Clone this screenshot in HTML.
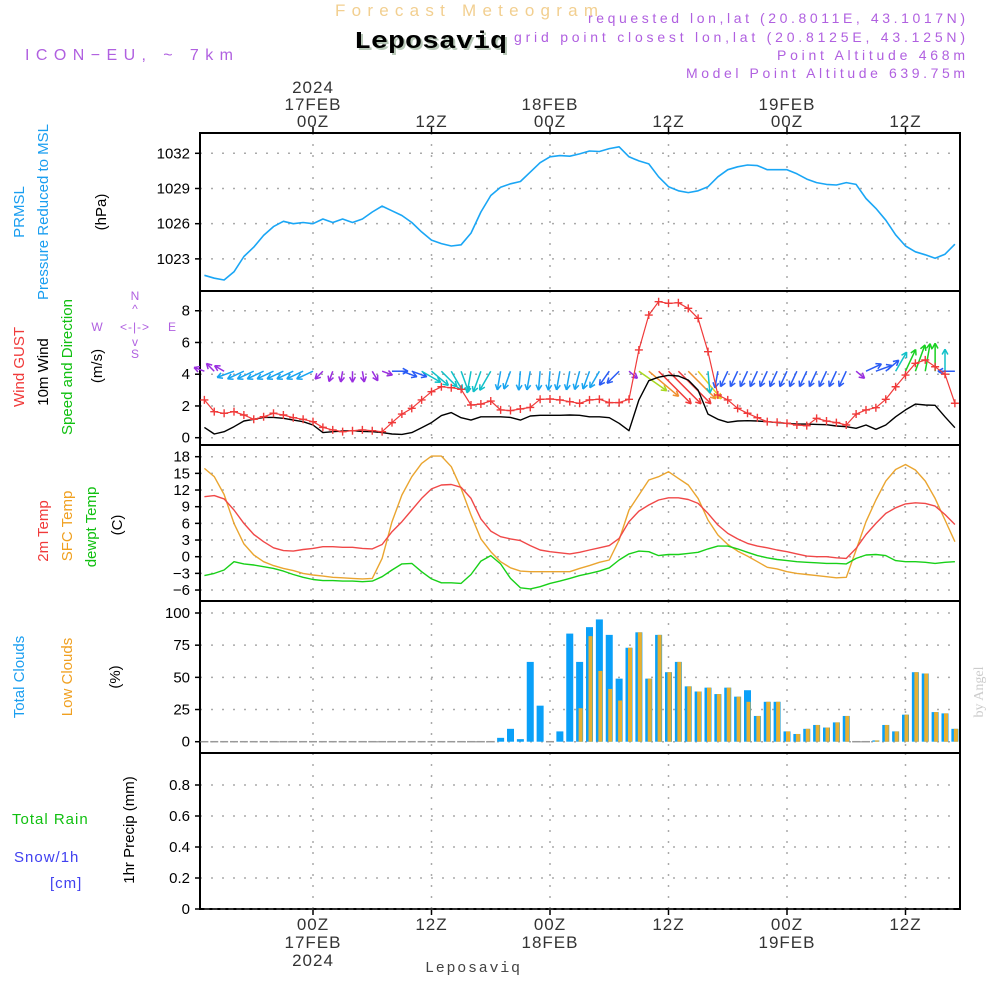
<!DOCTYPE html>
<html><head><meta charset="utf-8"><title>Forecast Meteogram Leposaviq</title>
<style>
html,body{margin:0;padding:0;background:#fff;}
svg{display:block;font-family:"Liberation Sans",sans-serif;}
</style></head>
<body>
<svg id="chart" width="1000" height="1000" viewBox="0 0 1000 1000" xmlns="http://www.w3.org/2000/svg">
<rect width="1000" height="1000" fill="#fff"/>
<text x="335" y="16" font-size="17" fill="#f2cf90" textLength="263" lengthAdjust="spacing">Forecast Meteogram</text>
<text x="356" y="50" font-size="24" font-weight="bold" font-family="Liberation Mono,monospace" fill="#b8c8b8" textLength="153" lengthAdjust="spacingAndGlyphs">Leposaviq</text>
<text x="354" y="48" font-size="24" font-weight="bold" font-family="Liberation Mono,monospace" fill="#000" textLength="153" lengthAdjust="spacingAndGlyphs">Leposaviq</text>
<g font-size="14" fill="#b060e0">
<text x="588" y="23" textLength="377" lengthAdjust="spacing">requested lon,lat (20.8011E, 43.1017N)</text>
<text x="514" y="42" textLength="451" lengthAdjust="spacing">grid point closest lon,lat (20.8125E, 43.125N)</text>
<text x="777" y="60" textLength="188" lengthAdjust="spacing">Point Altitude 468m</text>
<text x="686" y="78" textLength="279" lengthAdjust="spacing">Model Point Altitude 639.75m</text>
</g>
<text x="25" y="60" font-size="16" fill="#b060e0" textLength="208" lengthAdjust="spacing">ICON−EU, ~ 7km</text>
<g id="axes"></g>
<g id="plots"></g>
<g font-size="15">
<text transform="translate(24,212) rotate(-90)" text-anchor="middle" fill="#1a9ef0">PRMSL</text>
<text transform="translate(48,212) rotate(-90)" text-anchor="middle" fill="#1a9ef0">Pressure Reduced to MSL</text>
<text transform="translate(106,212) rotate(-90)" text-anchor="middle" fill="#000">(hPa)</text>
<text transform="translate(24,367) rotate(-90)" text-anchor="middle" fill="#f03a3a">Wind GUST</text>
<text transform="translate(48,372) rotate(-90)" text-anchor="middle" fill="#000">10m Wind</text>
<text transform="translate(72,367) rotate(-90)" text-anchor="middle" fill="#10c010">Speed and Direction</text>
<text transform="translate(102,366) rotate(-90)" text-anchor="middle" fill="#000">(m/s)</text>
<text transform="translate(48,531) rotate(-90)" text-anchor="middle" fill="#f03a3a">2m Temp</text>
<text transform="translate(72,526) rotate(-90)" text-anchor="middle" fill="#f0a020">SFC Temp</text>
<text transform="translate(96,527) rotate(-90)" text-anchor="middle" fill="#10c010">dewpt Temp</text>
<text transform="translate(122,525) rotate(-90)" text-anchor="middle" fill="#000">(C)</text>
<text transform="translate(24,677) rotate(-90)" text-anchor="middle" fill="#1a9ef0">Total Clouds</text>
<text transform="translate(72,677) rotate(-90)" text-anchor="middle" fill="#f0a020">Low Clouds</text>
<text transform="translate(120,677) rotate(-90)" text-anchor="middle" fill="#000">(%)</text>
<text transform="translate(134,830) rotate(-90)" text-anchor="middle" fill="#000">1hr Precip (mm)</text>
<text x="12" y="824" fill="#10c010" letter-spacing="1">Total  Rain</text>
<text x="14" y="862" fill="#4040f0" letter-spacing="1">Snow/1h</text>
<text x="50" y="888" fill="#4040f0" letter-spacing="1">[cm]</text>
</g>
<g font-size="12" fill="#b060e0" text-anchor="middle">
<text x="135" y="300">N</text><text x="135" y="313">^</text>
<text x="97" y="331">W</text><text x="135" y="331" letter-spacing="1">&lt;-|-&gt;</text><text x="172" y="331">E</text>
<text x="135" y="346">v</text><text x="135" y="358">S</text>
</g>
<text x="425" y="972" font-size="15" font-family="Liberation Mono,monospace" fill="#444" textLength="95" lengthAdjust="spacing">Leposaviq</text>
<text transform="translate(983,692) rotate(-90)" font-size="14" font-family="Liberation Serif,serif" fill="#ccc" text-anchor="middle">by Angel</text>
</svg>
<script>
// hours relative to 17FEB 00Z
const startHour = -11;
const pressure = [1021.6,1021.35,1021.2,1021.9,1023.2,1024.0,1025.0,1025.75,1026.2,1026.0,1026.1,1026.0,1026.4,1026.1,1026.4,1026.1,1026.4,1027.0,1027.5,1027.1,1026.7,1026.1,1025.3,1024.6,1024.3,1024.1,1024.2,1025.2,1027.0,1028.4,1029.1,1029.4,1029.6,1030.4,1031.2,1031.7,1031.8,1031.75,1031.95,1032.2,1032.15,1032.4,1032.55,1031.7,1031.35,1031.1,1030.0,1029.15,1028.8,1028.65,1028.8,1029.15,1030.0,1030.6,1030.85,1031.0,1030.95,1030.6,1030.6,1030.6,1030.25,1029.8,1029.5,1029.35,1029.3,1029.5,1029.35,1028.15,1027.3,1026.3,1025.05,1024.1,1023.6,1023.35,1023.05,1023.4,1024.25];
const gust = [2.38,1.64,1.54,1.64,1.43,1.16,1.32,1.54,1.43,1.26,1.16,1.01,0.65,0.49,0.38,0.44,0.49,0.44,0.38,0.95,1.49,1.85,2.38,2.9,3.21,3.15,3.05,2.06,2.12,2.31,1.75,1.71,1.81,1.91,2.42,2.44,2.38,2.27,2.17,2.38,2.42,2.21,2.21,2.42,5.53,7.73,8.57,8.47,8.5,8.15,7.52,5.42,2.69,2.38,1.85,1.54,1.26,1.01,0.97,0.91,0.8,0.76,1.22,1.05,0.95,0.8,1.49,1.75,1.89,2.42,3.21,3.95,4.69,4.9,4.47,4.0,2.17];
const wind10m = [0.65,0.23,0.38,0.69,1.05,1.16,1.28,1.28,1.22,1.11,1.01,0.8,0.32,0.38,0.42,0.44,0.4,0.38,0.32,0.23,0.21,0.32,0.63,0.95,1.39,1.58,1.26,1.11,1.32,1.32,1.32,1.28,1.11,1.37,1.41,1.41,1.41,1.43,1.41,1.32,1.32,1.26,0.91,0.44,2.38,3.59,3.81,3.93,3.89,3.63,3.0,1.49,1.16,0.97,1.05,1.07,1.05,1.01,0.95,0.91,0.86,0.86,0.84,0.82,0.74,0.69,0.59,0.8,0.53,0.8,1.32,1.75,2.12,2.06,2.04,1.32,0.63];
// arrow direction (screen angle deg, 0=pointing east, 90=pointing south) and arrow strength
const windDir = [200,225,210,160,155,155,155,155,155,155,155,155,135,110,100,90,80,60,20,0,20,20,30,40,45,60,70,100,110,120,100,110,95,100,95,95,100,100,105,110,120,125,135,40,35,40,45,45,45,45,50,85,100,115,115,115,115,115,115,115,115,115,115,115,115,115,40,-25,-20,-40,-60,-65,-70,-80,-90,-90,180];
const windStrength = [0.5,0.5,0.5,1.2,1.2,1.2,1.2,1.2,1.2,1.2,1.2,1.2,0.5,0.5,0.5,0.5,0.5,0.5,0.5,1.0,1.0,1.0,1.6,1.6,1.6,1.6,1.6,1.6,1.6,1.6,1.3,1.3,1.3,1.3,1.3,1.3,1.3,1.3,1.3,1.3,1.3,1.1,1.1,0.5,2.8,3.3,4,4,4,3.3,3.0,1.6,1.1,1.1,1.1,1.1,1.1,1.1,1.1,1.1,1.1,1.1,1.1,1.1,1.1,1.1,0.5,1.1,1.1,1.1,1.6,1.8,2.2,2.2,2.2,1.6,1.1];
const temp2m = [10.8,11.0,10.4,8.4,6.0,4.0,2.7,1.6,1.1,1.0,1.3,1.5,1.8,1.8,1.7,1.7,1.5,1.4,2.2,4.5,6.3,8.4,10.5,12.2,12.9,13.0,12.5,10.5,6.8,4.6,3.6,3.2,2.9,2.0,1.2,0.9,0.7,0.5,0.8,1.2,1.6,2.0,3.3,6.3,8.2,9.3,10.2,10.6,10.6,10.3,9.6,7.8,5.7,4.2,3.2,2.4,1.9,1.6,1.2,0.9,0.5,0.1,0.0,0.0,-0.2,-0.3,1.5,4.0,6.0,7.8,8.8,9.5,9.7,9.6,9.1,7.6,5.8];
const tempSfc = [15.9,14.4,11.2,6.0,2.3,0.3,-0.9,-1.6,-2.1,-2.5,-3.0,-3.3,-3.5,-3.7,-3.8,-3.9,-4.0,-3.9,-0.3,6.3,11.1,14.4,16.8,18.1,18.1,16.2,12.3,7.5,3.2,0.9,-0.9,-2.0,-2.6,-2.7,-2.7,-2.7,-2.7,-2.7,-2.1,-1.6,-1.0,-0.6,3.0,8.4,11.1,13.8,14.4,15.3,14.1,12.9,10.5,6.6,3.9,2.2,1.0,0.1,-0.9,-1.9,-2.2,-2.7,-3.0,-3.2,-3.4,-3.6,-3.8,-3.7,1.2,6.3,10.2,13.6,15.7,16.6,15.6,13.6,10.5,6.6,2.7];
const dewpt = [-3.4,-3.0,-2.4,-0.9,-1.3,-1.5,-1.8,-2.1,-2.6,-3.2,-3.7,-4.1,-4.3,-4.3,-4.4,-4.4,-4.5,-4.4,-3.6,-2.4,-1.3,-1.2,-2.7,-4.0,-4.7,-4.7,-4.8,-3.2,-0.8,0.2,-1.3,-3.9,-5.6,-5.8,-5.4,-4.8,-4.4,-3.9,-3.4,-3.0,-2.6,-2.0,-0.6,0.5,1.0,0.9,0.2,0.4,0.4,0.6,0.8,1.4,1.9,1.9,1.4,0.8,0.2,-0.2,-0.5,-0.7,-0.9,-1.0,-1.1,-1.2,-1.2,-1.3,-0.3,0.3,0.4,0.2,-0.7,-0.9,-0.9,-1.0,-1.2,-1.0,-0.9];
const totalClouds = [0,0,0,0,0,0,0,0,0,0,0,0,0,0,0,0,0,0,0,0,0,0,0,0,0,0,0,0,0,0,3,10,2,62,28,0,8,84,62,89,95,83,49,73,85,49,83,54,62,43,39,42,37,42,35,40,20,31,31,8,6,10,13,11,15,20,0,0,1,13,8,21,54,53,23,22,10];
const lowClouds = [0,0,0,0,0,0,0,0,0,0,0,0,0,0,0,0,0,0,0,0,0,0,0,0,0,0,0,0,0,0,0,0,0,0,0,0,0,0,26,82,55,41,32,73,85,49,83,54,62,43,39,42,37,42,35,31,20,31,31,8,6,10,13,11,15,20,0,0,1,13,8,21,54,53,23,22,10];
const precip = new Array(77).fill(0);
const pressTicks = [1023,1026,1029,1032];
const windTicks = [0,2,4,6,8];
const tempTicks = [-6,-3,0,3,6,9,12,15,18];
const cloudTicks = [0,25,50,75,100];
const precipTicks = [0,0.2,0.4,0.6,0.8];
const timeTicks = [0,12,24,36,48,60];
const timeTopLabels = [["2024","17FEB","00Z"],["","","12Z"],["","18FEB","00Z"],["","","12Z"],["","19FEB","00Z"],["","","12Z"]];
const timeBottomLabels = [["00Z","17FEB","2024"],["12Z","",""],["00Z","18FEB",""],["12Z","",""],["00Z","19FEB",""],["12Z","",""]];

const NS="http://www.w3.org/2000/svg";
const X0=200,X1=960;
const xH = h => 313 + h*9.875;
const panels = {
 press:{top:133,bot:291,y:v=>153.3+(1032-v)*11.73},
 wind:{top:291,bot:445,y:v=>437.7-v*15.87},
 temp:{top:445,bot:601,y:v=>556.7-v*5.556},
 cloud:{top:601,bot:753,y:v=>741.7-v*1.287},
 precip:{top:753,bot:909,y:v=>909-v*155}
};
const axes=document.getElementById('axes'), plots=document.getElementById('plots');
function mk(tag,attrs,parent){const e=document.createElementNS(NS,tag);for(const k in attrs)e.setAttribute(k,attrs[k]);(parent||plots).appendChild(e);return e;}
function gridPanel(p,ticks,name,fmt){
  const P=panels[p];
  for(const t of ticks){
    const y=P.y(t);
    const g=mk('line',{x1:X0,x2:X1,y1:y,y2:y,stroke:'#aaa','stroke-width':1.5,'stroke-dasharray':'2 9'},axes);
    
    
    mk('line',{x1:X0-5,x2:X0,y1:y,y2:y,stroke:'#000','stroke-width':1.5},axes);
    const tx=mk('text',{x:X0-10,y:y+5,'font-size':15,'text-anchor':'end',fill:'#000'},axes);
    tx.textContent=fmt?fmt(t):String(t).replace('-','−');
    
    
  }
  for(const h of timeTicks){
    const x=xH(h);
    const g=mk('line',{x1:x,x2:x,y1:P.top,y2:P.bot,stroke:'#aaa','stroke-width':1.5,'stroke-dasharray':'2 9'},axes);
    
    
  }
  const r=mk('rect',{x:X0,y:P.top,width:X1-X0,height:P.bot-P.top,fill:'none',stroke:'#000','stroke-width':2},axes);
  
  
}
gridPanel('press',pressTicks,'pressure');
gridPanel('wind',windTicks,'wind');
gridPanel('temp',tempTicks,'temperature');
gridPanel('cloud',cloudTicks,'clouds');
gridPanel('precip',precipTicks,'precip',t=>t===0?'0':t.toFixed(1));
// time axis labels
timeTicks.forEach((h,i)=>{
  const x=xH(h);
  mk('line',{x1:x,x2:x,y1:127,y2:133,stroke:'#000','stroke-width':1.5},axes);
  mk('line',{x1:x,x2:x,y1:909,y2:915,stroke:'#000','stroke-width':1.5},axes);
  const top=timeTopLabels[i];
  [93,110,127].forEach((y,j)=>{ if(top[j]){const t=mk('text',{x:x,y:y,'font-size':17,'text-anchor':'middle',fill:'#333','letter-spacing':1},axes);t.textContent=top[j];
    
    }});
  const bot=timeBottomLabels[i];
  [930,948,966].forEach((y,j)=>{ if(bot[j]){const t=mk('text',{x:x,y:y,'font-size':17,'text-anchor':'middle',fill:'#333','letter-spacing':1},axes);t.textContent=bot[j];
    
    }});
});
function line(arr,p,color,w,name,dash){
  const P=panels[p];
  const pts=arr.map((v,i)=>xH(startHour+i).toFixed(1)+','+P.y(v).toFixed(1)).join(' ');
  const e=mk('polyline',{points:pts,fill:'none',stroke:color,'stroke-width':w,'stroke-linejoin':'round'});
  if(dash)e.setAttribute('stroke-dasharray',dash);
  
  
}
line(pressure,'press','#1aa6f5',1.6,'pressure-line');
// wind arrows
function windColor(s){
  if(s<0.8)return '#9a2ee0'; if(s<1.15)return '#2a5cf5'; if(s<1.4)return '#18a4f0'; if(s<1.7)return '#10c0c8';
  if(s<2.5)return '#18d020'; if(s<2.9)return '#a8d820'; if(s<3.1)return '#e8d020'; if(s<3.6)return '#f09030'; return '#f03a3a';
}
windDir.forEach((d,i)=>{
  const s=windStrength[i], x=xH(startHour+i), y=panels.wind.y(4)-3;
  const L=6+s*10, a=d*Math.PI/180;
  const x2=x+L*Math.cos(a), y2=y+L*Math.sin(a);
  const c=windColor(s);
  const g=mk('g',{stroke:c,'stroke-width':1.5,fill:'none'});
  
  
  mk('line',{x1:x,y1:y,x2:x2,y2:y2},g);
  const hl=6;
  [a+Math.PI-0.5,a+Math.PI+0.5].forEach(b=>mk('line',{x1:x2,y1:y2,x2:x2+hl*Math.cos(b),y2:y2+hl*Math.sin(b)},g));
});
line(wind10m,'wind','#000',1.4,'wind10m-line');
line(gust,'wind','#f03a3a',1.2,'gust-line');
gust.forEach((v,i)=>{
  const x=xH(startHour+i), y=panels.wind.y(v);
  const g=mk('path',{d:`M${x-4},${y}h8M${x},${y-4}v8`,stroke:'#f03a3a','stroke-width':1.4});
  
  
});
line(tempSfc,'temp','#eaa530',1.4,'sfc-temp-line');
line(temp2m,'temp','#f04848',1.4,'t2m-line');
line(dewpt,'temp','#18d018',1.4,'dewpt-line');
// clouds
totalClouds.forEach((v,i)=>{
  const x=xH(startHour+i), P=panels.cloud, y0=P.y(0);
  if(v<=0){const z=mk('line',{x1:x-4,x2:x+4,y1:y0,y2:y0,stroke:'#999','stroke-width':1.5});
    
    return;}
  const r=mk('rect',{x:x-3.5,y:P.y(v),width:7,height:y0-P.y(v),fill:'#0aa0f8'});
  
  
  const lv=lowClouds[i];
  if(lv>0){const r2=mk('rect',{x:x-1,y:P.y(lv),width:4,height:y0-P.y(lv),fill:'#e8b030'});
    
    }
});
line(precip,'precip','#444',1.5,'precip-line','5 3');
</script>
</body></html>
